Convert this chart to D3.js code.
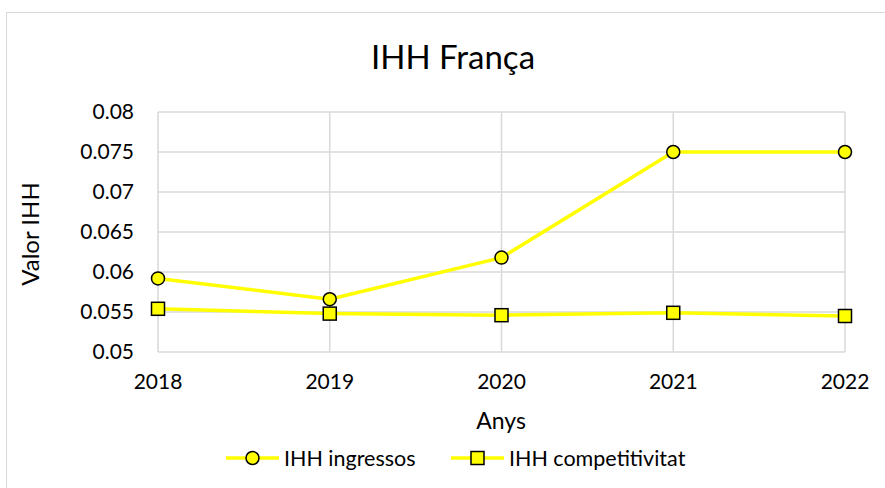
<!DOCTYPE html>
<html><head><meta charset="utf-8">
<script src="https://cdn.jsdelivr.net/npm/d3@7"></script>
<style>body{margin:0;background:#fff}svg{display:block}text{font-family:Lato,"Open Sans",sans-serif;fill:#000}</style>
</head><body>
<svg id="c" width="885" height="488"></svg>
<script>
const years = ["2018","2019","2020","2021","2022"];
const ingressos = [0.0592, 0.0566, 0.0618, 0.0750, 0.0750];
const competitivitat = [0.0554, 0.0548, 0.0546, 0.0549, 0.0545];
const yTicks = [0.05, 0.055, 0.06, 0.065, 0.07, 0.075, 0.08];
const seriesNames = ["IHH ingressos", "IHH competitivitat"];

const svg = d3.select("#c");
svg.append("rect").attr("x",6.5).attr("y",12.5).attr("width",900).attr("height",500)
  .attr("fill","#fff").attr("stroke","#d9d9d9");

const x = d3.scalePoint().domain(years).range([158, 845]);
const y = d3.scaleLinear().domain([0.05, 0.08]).range([352, 112]);

// gridlines
svg.append("g").selectAll("line").data(yTicks).join("line")
  .attr("x1",158).attr("x2",845).attr("y1",d=>y(d)).attr("y2",d=>y(d))
  .attr("stroke","#d9d9d9").attr("stroke-width",1.5);
svg.append("g").selectAll("line").data(years).join("line")
  .attr("x1",d=>x(d)).attr("x2",d=>x(d)).attr("y1",112).attr("y2",352)
  .attr("stroke","#d9d9d9").attr("stroke-width",1.5);

// y axis labels
svg.append("g").selectAll("text").data(yTicks).join("text")
  .attr("x",134).attr("y",d=>y(d)).attr("dy","0.35em").attr("text-anchor","end")
  .attr("font-size",21).text(d=>String(+d.toFixed(3)));
// x axis labels
svg.append("g").selectAll("text").data(years).join("text")
  .attr("x",d=>x(d)).attr("y",382).attr("dy","0.35em").attr("text-anchor","middle")
  .attr("font-size",21).text(d=>d);

// titles
svg.append("text").attr("x",453).attr("y",57).attr("dy","0.35em").attr("text-anchor","middle")
  .attr("font-size",33).text("IHH França");
svg.append("text").attr("x",501).attr("y",421).attr("dy","0.35em").attr("text-anchor","middle")
  .attr("font-size",23).text("Anys");
svg.append("text").attr("transform","translate(31,234) rotate(-90)").attr("dy","0.35em")
  .attr("text-anchor","middle").attr("font-size",24).text("Valor IHH");

const line = d3.line().x((d,i)=>x(years[i])).y(d=>y(d));
const yellow = "#ffff00";
[competitivitat, ingressos].forEach(s=>{
  svg.append("path").datum(s).attr("d",line).attr("fill","none")
    .attr("stroke",yellow).attr("stroke-width",3.5).attr("stroke-linejoin","round");
});
svg.append("g").selectAll("rect").data(competitivitat).join("rect")
  .attr("x",(d,i)=>x(years[i])-6.5).attr("y",d=>y(d)-6.5).attr("width",13).attr("height",13)
  .attr("fill",yellow).attr("stroke","#000").attr("stroke-width",1.5);
svg.append("g").selectAll("circle").data(ingressos).join("circle")
  .attr("cx",(d,i)=>x(years[i])).attr("cy",d=>y(d)).attr("r",6.5)
  .attr("fill",yellow).attr("stroke","#000").attr("stroke-width",1.5);

// legend
const leg = svg.append("g");
const ly = 458;
[[226, 284], [451, 509]].forEach(([lx, tx], i)=>{
  leg.append("line").attr("x1",lx).attr("x2",lx+53).attr("y1",ly).attr("y2",ly)
    .attr("stroke",yellow).attr("stroke-width",3.5);
  if(i===0){
    leg.append("circle").attr("cx",lx+26.5).attr("cy",ly).attr("r",6.5)
      .attr("fill",yellow).attr("stroke","#000").attr("stroke-width",1.5);
  } else {
    leg.append("rect").attr("x",lx+26.5-6.5).attr("y",ly-6.5).attr("width",13).attr("height",13)
      .attr("fill",yellow).attr("stroke","#000").attr("stroke-width",1.5);
  }
  leg.append("text").attr("x",tx).attr("y",ly).attr("dy","0.35em").attr("font-size",21.5)
    .text(seriesNames[i]);
});
</script>
</body></html>
